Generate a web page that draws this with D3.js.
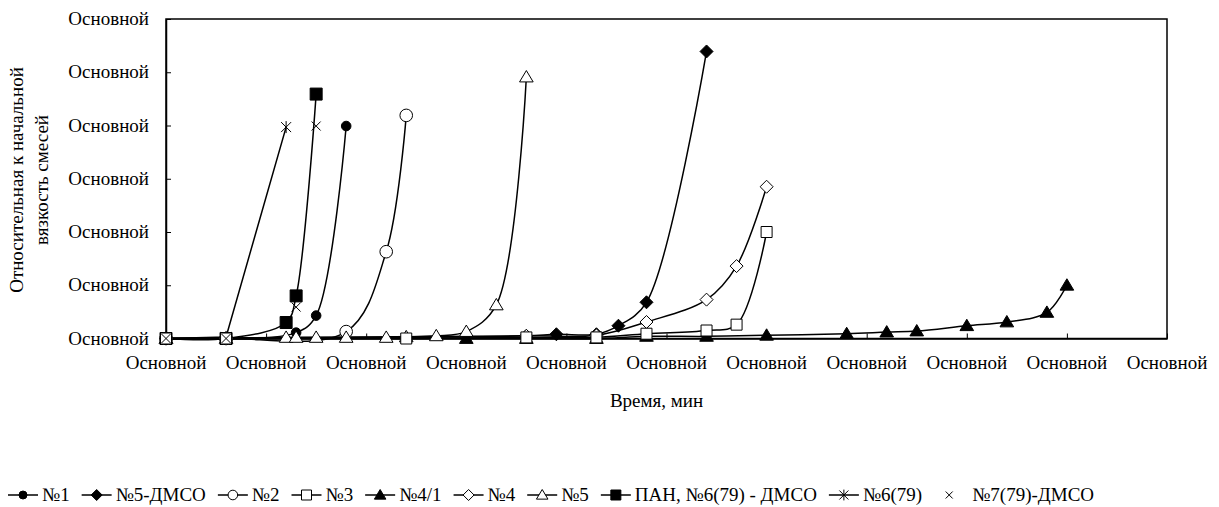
<!DOCTYPE html>
<html><head><meta charset="utf-8">
<script src="https://cdn.jsdelivr.net/npm/d3@7"></script>
<style>body{margin:0;background:#fff}</style>
</head><body><svg id="c" width="1219" height="507"></svg>
<script>
// ---- data ----
const xTickValues = [0,100,200,300,400,500,600,700,800,900,1000];
const yTickValues = [0,1,2,3,4,5,6];
const tickLabel = "Основной";
const xTitle = "Время, мин";
const yTitle = ["Относительная к начальной", "вязкость смесей"];

const seriesNames = ["№1","№5-ДМСО","№2","№3","№4/1","№4","№5","ПАН, №6(79) - ДМСО","№6(79)","№7(79)-ДМСО"];

const tN1 = [0,60,130,150,180];
const vN1 = [0,0,0.11,0.43,3.99];
const tN5D = [0,60,360,390,430,452,480,540];
const vN5D = [0,0,0.05,0.08,0.08,0.24,0.68,5.39];
const tN2 = [0,60,180,220,240];
const vN2 = [0,0,0.13,1.63,4.19];
const tN3 = [0,60,240,360,430,480,540,570,600];
const vN3 = [0,0,0,0.02,0.02,0.09,0.15,0.26,2.0];
const tN41 = [0,300,360,430,480,540,600,680,720,750,800,840,880,900];
const vN41 = [0,0,0,0,0.04,0.04,0.06,0.09,0.12,0.14,0.24,0.31,0.49,1.0];
const tN4 = [0,360,430,480,540,570,600];
const vN4 = [0,0.05,0.06,0.31,0.73,1.36,2.85];
const tN5 = [0,60,120,130,150,180,220,240,270,300,330,360];
const vN5 = [0,0,0.02,0.02,0.02,0.02,0.02,0.03,0.05,0.13,0.63,4.91];
const tPAN = [0,60,120,130,150];
const vPAN = [0,0,0.30,0.80,4.59];
const tN6 = [0,60,120];
const vN6 = [0,0.03,3.97];
const tN7 = [0,60,120,130,150];
const vN7 = [0,0,0.31,0.59,3.99];

// ---- build ----
const FONT = '"Liberation Serif","Times New Roman","DejaVu Serif",serif';
const FS = 19;
const markerKinds = ["circleF","diamondF","circleO","squareO","triF","diamondO","triO","squareF","star","cross"];
const lineKind = ["smooth","smooth","smooth","smooth","smooth","smooth","smooth","smooth","straight","none"];
const times = [tN1,tN5D,tN2,tN3,tN41,tN4,tN5,tPAN,tN6,tN7];
const vals = [vN1,vN5D,vN2,vN3,vN41,vN4,vN5,vPAN,vN6,vN7];
const series = seriesNames.map((n,i)=>({name:n, kind:markerKinds[i], line:lineKind[i],
  pts: times[i].map((t,j)=>[t, vals[i][j]])}));

const svg = d3.select("#c");
const L = 166, R = 1167, T = 19, B = 338.5;
const x = d3.scaleLinear().domain([0,1000]).range([L,R]);
const y = d3.scaleLinear().domain([0,6]).range([B,T]);

function markerPath(kind, s){
  const p = d3.path();
  switch(kind){
    case "circleF": case "circleO": p.arc(0,0,s,0,2*Math.PI); break;
    case "squareF": case "squareO": p.rect(-s,-s,2*s,2*s); break;
    case "diamondF": case "diamondO": p.moveTo(0,-s);p.lineTo(s,0);p.lineTo(0,s);p.lineTo(-s,0);p.closePath(); break;
    case "triF": case "triO": p.moveTo(0,-s);p.lineTo(s*1.05,s*0.75);p.lineTo(-s*1.05,s*0.75);p.closePath(); break;
    case "star": p.moveTo(-s,-s);p.lineTo(s,s);p.moveTo(-s,s);p.lineTo(s,-s);p.moveTo(0,-s*1.2);p.lineTo(0,s*1.2); break;
    case "cross": p.moveTo(-s,-s);p.lineTo(s,s);p.moveTo(-s,s);p.lineTo(s,-s); break;
  }
  return p.toString();
}
const sizeMap = {circleF:4.8,circleO:6.3,squareF:6,squareO:5.5,diamondF:6.5,diamondO:6.5,triF:6.5,triO:6.5,star:5,cross:4.5};
const legendSize = {circleF:4,circleO:4.8,squareF:5,squareO:5,diamondF:5.5,diamondO:5.5,triF:5.5,triO:5.5,star:4.5,cross:3.5};
function fillOf(k){return (k.endsWith("F"))?"#000":(k==="star"||k==="cross")?"none":"#fff";}

// plot box
svg.append("rect").attr("x",L).attr("y",T).attr("width",R-L).attr("height",B-T)
  .attr("fill","none").attr("stroke","#000").attr("stroke-width",1.5);

// axes (ticks inside)
const xAxis = d3.axisBottom(x).tickValues(xTickValues).tickSize(-5).tickFormat(()=>"").tickSizeOuter(0);
const gx = svg.append("g").attr("transform",`translate(0,${B})`).call(xAxis);
gx.select(".domain").attr("stroke","#000").attr("stroke-width",1.5);
gx.selectAll(".tick line").attr("stroke","#000");
const yAxis = d3.axisLeft(y).tickValues(yTickValues).tickSize(-5).tickFormat(()=>"").tickSizeOuter(0);
const gy = svg.append("g").attr("transform",`translate(${L},0)`).call(yAxis);
gy.select(".domain").attr("stroke","#000").attr("stroke-width",1.5);
gy.selectAll(".tick line").attr("stroke","#000");

// tick labels
svg.append("g").selectAll("text").data(xTickValues).join("text")
  .attr("x",d=>x(d)).attr("y",B+30).attr("text-anchor","middle")
  .attr("font-family",FONT).attr("font-size",FS).text(tickLabel);
svg.append("g").selectAll("text").data(yTickValues).join("text")
  .attr("x",L-17).attr("y",d=>y(d)+6).attr("text-anchor","end")
  .attr("font-family",FONT).attr("font-size",FS).text(tickLabel);

// titles
svg.append("text").attr("x",(L+R)/2-10).attr("y",407).attr("text-anchor","middle")
  .attr("font-family",FONT).attr("font-size",FS).text(xTitle);
const yt = svg.append("text").attr("transform","translate(23,180) rotate(-90)").attr("text-anchor","middle")
  .attr("font-family",FONT).attr("font-size",FS);
yt.append("tspan").attr("x",0).attr("dy",0).text(yTitle[0]);
yt.append("tspan").attr("x",0).attr("dy",25).text(yTitle[1]);

// lines
const smooth = d3.line().x(d=>x(d[0])).y(d=>y(d[1])).curve(d3.curveCatmullRom.alpha(0.5));
const straight = d3.line().x(d=>x(d[0])).y(d=>y(d[1]));
const drawOrder = [7,8,0,1,2,4,5,6,3,9];
drawOrder.forEach(i=>{
  const s = series[i];
  if(s.line==="none") return;
  svg.append("path").attr("d",(s.line==="smooth"?smooth:straight)(s.pts))
    .attr("fill","none").attr("stroke","#000").attr("stroke-width",1.5);
});
drawOrder.forEach(i=>{
  const s = series[i];
  svg.append("g").selectAll("path").data(s.pts).join("path")
    .attr("transform",d=>`translate(${x(d[0])},${y(d[1])})`)
    .attr("d",markerPath(s.kind,sizeMap[s.kind]))
    .attr("fill",fillOf(s.kind)).attr("stroke","#000").attr("stroke-width",1);
});

// legend
const lg = svg.append("g").attr("transform","translate(8,495)");
let cx = 0;
series.forEach(s=>{
  const hasL = s.line!=="none";
  const g = lg.append("g").attr("transform",`translate(${cx},0)`);
  if(hasL) g.append("line").attr("x1",0).attr("x2",30).attr("y1",0).attr("y2",0).attr("stroke","#000").attr("stroke-width",1.5);
  g.append("path").attr("transform","translate(15,0)").attr("d",markerPath(s.kind,legendSize[s.kind]))
    .attr("fill",fillOf(s.kind)).attr("stroke","#000").attr("stroke-width",1);
  const t = g.append("text").attr("x",hasL?34:38).attr("y",6).attr("font-family",FONT).attr("font-size",FS).text(s.name);
  cx += (hasL?34:38) + t.node().getComputedTextLength() + 12;
});
</script></body></html>
